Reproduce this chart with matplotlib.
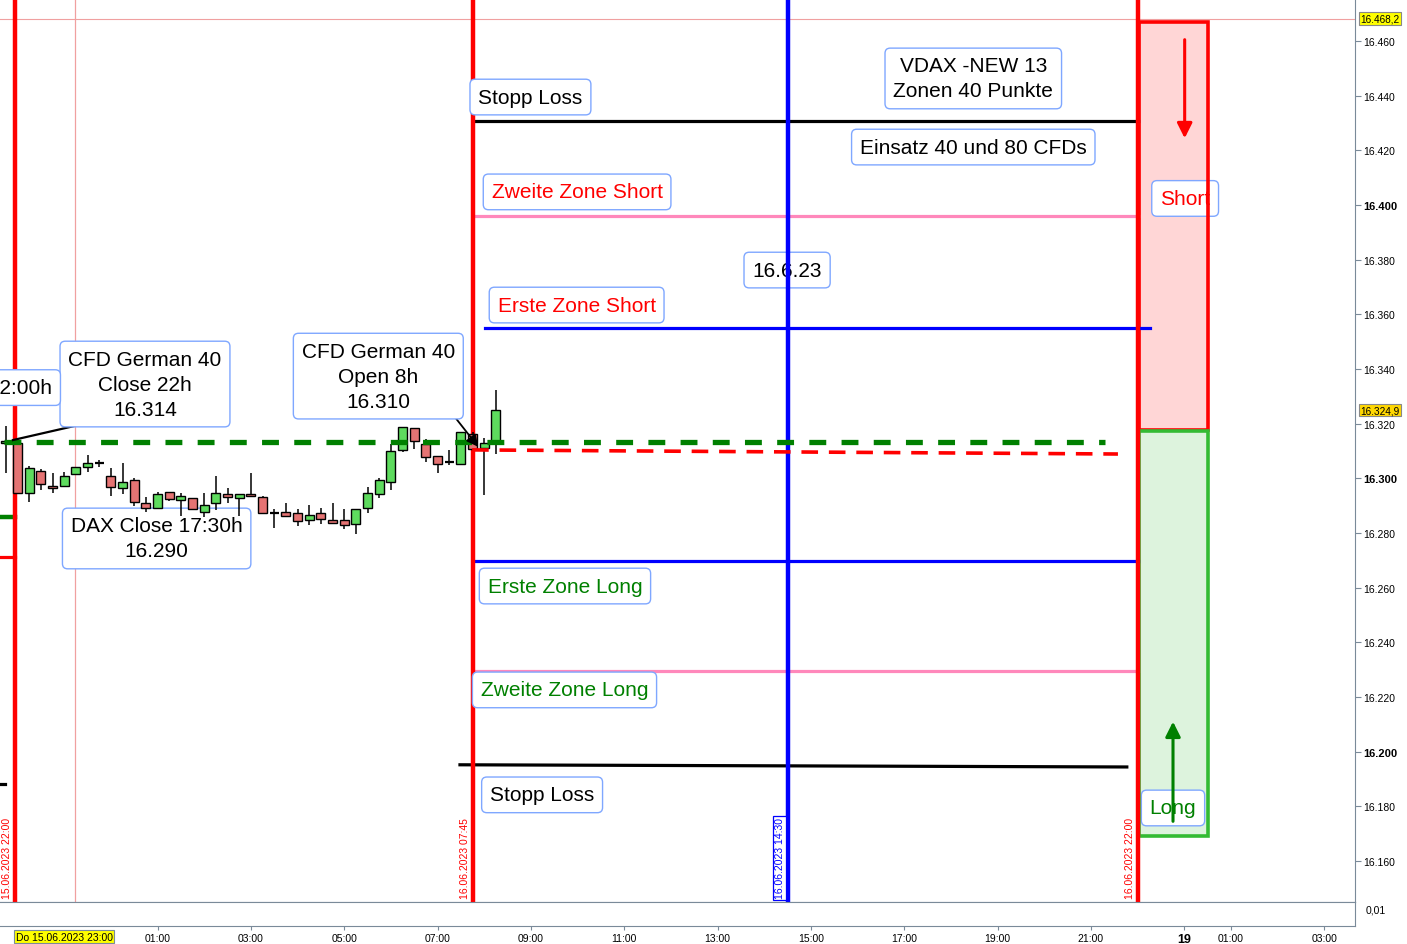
import matplotlib
matplotlib.use("Agg")
import matplotlib.pyplot as plt
from matplotlib.patches import Rectangle
import numpy as np

plt.rcParams['font.family'] = ['Liberation Sans', 'DejaVu Sans']

# ---------------- data ----------------
# time axis: hours since 15.06.2023 22:00 (weekend compressed)
candle_start = -0.25
candle_step = 0.25
opens = [16312.9, 16312.9, 16294.6, 16302.7, 16297.2, 16297.2, 16301.6, 16304.2, 16305.6, 16300.9,
         16296.5, 16299.4, 16291.0, 16289.1, 16295.0, 16292.1, 16292.8, 16287.7, 16291.0, 16294.3,
         16292.8, 16294.3, 16293.2, 16287.3, 16287.7, 16287.3, 16284.8, 16287.3, 16284.8, 16284.8,
         16283.3, 16289.1, 16294.3, 16298.7, 16310.4, 16318.4, 16312.6, 16308.2, 16306.0, 16305.3,
         16316.2, 16311.1, 16313.3]
highs = [16319.1, 16313.5, 16304.4, 16303.4, 16302.0, 16302.3, 16304.2, 16308.5, 16306.7, 16303.8,
         16305.6, 16300.1, 16293.2, 16295.0, 16295.0, 16294.6, 16292.8, 16294.6, 16300.9, 16296.5,
         16294.3, 16302.0, 16293.5, 16288.8, 16291.0, 16288.8, 16290.2, 16289.1, 16291.0, 16288.8,
         16288.8, 16296.8, 16300.1, 16312.6, 16318.8, 16318.4, 16314.4, 16308.2, 16310.4, 16317.0,
         16317.0, 16314.8, 16332.3]
lows = [16302.0, 16294.6, 16291.3, 16295.7, 16294.6, 16297.2, 16301.6, 16302.3, 16304.2, 16293.5,
        16294.3, 16289.9, 16287.7, 16289.1, 16291.7, 16286.2, 16288.4, 16285.9, 16288.4, 16291.0,
        16286.2, 16293.5, 16287.3, 16281.8, 16286.2, 16282.6, 16282.9, 16283.3, 16283.7, 16281.5,
        16279.6, 16287.3, 16292.8, 16295.7, 16309.5, 16310.7, 16306.0, 16302.0, 16304.9, 16305.3,
        16310.0, 16293.9, 16308.9]
closes = [16313.7, 16294.6, 16303.8, 16297.9, 16296.5, 16300.9, 16304.2, 16305.6, 16305.6, 16296.8,
          16298.7, 16291.3, 16289.1, 16294.3, 16292.4, 16293.5, 16288.8, 16290.2, 16294.6, 16293.2,
          16294.3, 16293.5, 16287.3, 16287.3, 16286.2, 16284.4, 16286.6, 16285.1, 16283.7, 16282.9,
          16288.8, 16294.6, 16299.4, 16310.0, 16318.8, 16313.7, 16307.8, 16305.3, 16306.0, 16317.0,
          16310.7, 16312.9, 16325.0]

# zone levels
stop_short = 16430.7
zone2_short = 16396.0
zone1_short = 16355.0
cfd_close_level = 16313.3
open_level_start, open_level_end = 16310.4, 16308.9
zone1_long = 16269.8
zone2_long = 16229.5
stop_long_start, stop_long_end = 16195.2, 16194.4
prev_green, prev_red, prev_black = 16285.9, 16271.2, 16188.2

# vertical event lines (hours since 15.06 22:00)
vlines_t = [-0.05, 9.75, 16.5, 24.0]
vlines_lbl = ["15.06.2023 22:00", "16.06.2023 07:45", "16.06.2023 14:30", "16.06.2023 22:00"]
vlines_col = ["#FF0000", "#FF0000", "#0000FF", "#FF0000"]

# short / long target boxes
short_box = (16317.7, 16467.0)
long_box = (16169.1, 16317.3)

# axis ticks
ytick_vals = list(range(16160, 16461, 20))
bold_y = [16200, 16300, 16400]
xtick_t = [3, 5, 7, 9, 11, 13, 15, 17, 19, 21, 23, 25, 26, 28]
xtick_lbl = ["01:00", "03:00", "05:00", "07:00", "09:00", "11:00", "13:00", "15:00",
             "17:00", "19:00", "21:00", "19", "01:00", "03:00"]
high_marker = 16468.2
last_price = 16324.9

# ---------------- figure ----------------
fig = plt.figure(figsize=(14.07, 9.45), dpi=100)
ax = fig.add_axes([0, 42/945, 1355/1407, 903/945])
ax2 = fig.add_axes([0, 18/945, 1355/1407, 24/945], sharex=ax)

x0, x1 = -0.377, 28.66
ax.set_xlim(x0, x1)
ax.set_ylim(16145.0, 16475.37)

spine_col = "#7A8A99"
for a in (ax, ax2):
    a.spines['top'].set_visible(False)
    a.spines['left'].set_visible(False)
    a.spines['right'].set_color(spine_col)
    a.spines['bottom'].set_color(spine_col)
ax2.spines['top'].set_visible(True)
ax2.spines['top'].set_color(spine_col)

# right y axis
ax.yaxis.tick_right()
ax.set_yticks(ytick_vals)
ax.set_yticklabels([f"{v/1000:.3f}" for v in ytick_vals])
ax.tick_params(axis='y', which='both', length=4, color=spine_col, labelsize=7.5, pad=2)
for lbl, v in zip(ax.get_yticklabels(), ytick_vals):
    if v in bold_y:
        lbl.set_fontweight('bold')
        lbl.set_fontsize(8)
ax.tick_params(axis='x', which='both', bottom=False, labelbottom=False)

# sub-panel
ax2.set_ylim(0, 1)
ax2.set_yticks([])
ax2.text(1.008, 0.7, "0,01", transform=ax2.transAxes, fontsize=7.5, va='center', ha='left')
ax2.set_xticks(xtick_t)
ax2.set_xticklabels(xtick_lbl)
ax2.tick_params(axis='x', length=3, color=spine_col, labelsize=7.5, pad=2)
for lbl, t in zip(ax2.get_xticklabels(), xtick_t):
    if t == 25:
        lbl.set_fontweight('bold')
        lbl.set_fontsize(9)
ax2.text(1, -0.45, "Do 15.06.2023 23:00", transform=ax2.get_xaxis_transform(), fontsize=7.5,
         ha='center', va='center',
         bbox=dict(boxstyle='square,pad=0.15', fc='#FFFF00', ec='#7A8A99', lw=0.8), clip_on=False)

# thin crosshair lines
ax.axhline(high_marker, color='#F0A0A0', lw=0.8, zorder=1)
ax.axvline(1.23, color='#F0A0A0', lw=0.9, zorder=1)

def de_fmt(v):
    return f"{v:,.1f}".replace(",", "X").replace(".", ",").replace("X", ".")

# right axis price labels
ytr = ax.get_yaxis_transform()
ax.text(1.004, high_marker, de_fmt(high_marker),
        transform=ytr, fontsize=7.2, va='center', ha='left',
        bbox=dict(boxstyle='square,pad=0.12', fc='#FFFF00', ec='#888888', lw=0.8), clip_on=False)
ax.text(1.004, last_price, de_fmt(last_price),
        transform=ytr, fontsize=7.2, va='center', ha='left',
        bbox=dict(boxstyle='square,pad=0.12', fc='#FFD700', ec='#888888', lw=0.8), clip_on=False)

# vertical event lines
for t, lab, c in zip(vlines_t, vlines_lbl, vlines_col):
    ax.axvline(t, color=c, lw=3.2, zorder=6)
    kw = {}
    if c == "#0000FF":
        kw['bbox'] = dict(boxstyle='square,pad=0.15', fc='white', ec='#0000FF', lw=0.9)
    ax.text(t - 0.17, 16146.3, lab, rotation=90, color=c, fontsize=7.5,
            ha='center', va='bottom', zorder=7, **kw)

# target boxes on the right (fill below labels, border above)
for (lo, hi), fc, ec in ((short_box, '#FFD6D6', '#FF0000'), (long_box, '#DDF3DD', '#33BB33')):
    ax.add_patch(Rectangle((24.04, lo), 25.51 - 24.04, hi - lo, fc=fc, ec='none', zorder=2))
    ax.add_patch(Rectangle((24.04, lo), 25.51 - 24.04, hi - lo, fc='none', ec=ec, lw=2.6, zorder=4))
ax.annotate("", xy=(25.01, 16423.4), xytext=(25.01, 16461.5),
            arrowprops=dict(arrowstyle='-|>,head_width=0.45,head_length=0.9', color='#FF0000', lw=2.2),
            zorder=4)
ax.annotate("", xy=(24.76, 16212.0), xytext=(24.76, 16173.5),
            arrowprops=dict(arrowstyle='-|>,head_width=0.45,head_length=0.9', color='#008000', lw=2.2),
            zorder=4)

# zone lines
ax.plot([9.75, 24.0], [stop_short, stop_short], color='black', lw=2.3, zorder=4)
ax.plot([9.75, 24.0], [zone2_short, zone2_short], color='#FF88BB', lw=2.3, zorder=4)
ax.plot([10.02, 24.27], [zone1_short, zone1_short], color='#0000FF', lw=2.3, zorder=4)
ax.plot([9.75, 24.0], [zone1_long, zone1_long], color='#0000FF', lw=2.3, zorder=4)
ax.plot([9.75, 24.0], [zone2_long, zone2_long], color='#FF88BB', lw=2.3, zorder=4)
ax.plot([9.48, 23.77], [stop_long_start, stop_long_end], color='black', lw=2.3, zorder=4)
ax.plot([-0.29, 23.3], [cfd_close_level, cfd_close_level], color='#008000', lw=3.8,
        linestyle=(0, (3.2, 2.9)), solid_capstyle='butt', dash_capstyle='butt', zorder=9.5)
ax.plot([9.74, 23.58], [open_level_start, open_level_end], color='#FF0000', lw=2.6,
        linestyle=(0, (4.6, 3.0)), dash_capstyle='butt', zorder=9.5)
# segments from the previous day
ax.plot([-0.5, -0.05], [prev_green, prev_green], color='#008000', lw=3.2, zorder=4)
ax.plot([-0.5, -0.05], [prev_red, prev_red], color='#FF0000', lw=2.3, zorder=4)
ax.plot([-0.5, -0.27], [prev_black, prev_black], color='black', lw=2.3, zorder=4)

# candles
tt = candle_start + candle_step * np.arange(len(opens))
o = np.array(opens); h = np.array(highs); l = np.array(lows); c = np.array(closes)
ax.vlines(tt, l, h, color='black', lw=1.1, zorder=8)
up = c > o
dn = c < o
eq = c == o
ax.bar(tt[up], c[up] - o[up], bottom=o[up], width=0.19, color='#5EDB5E', edgecolor='black', lw=1.0, zorder=9)
ax.bar(tt[dn], c[dn] - o[dn], bottom=o[dn], width=0.19, color='#E57373', edgecolor='black', lw=1.0, zorder=9)
ax.hlines(o[eq], tt[eq] - 0.1, tt[eq] + 0.1, color='black', lw=1.6, zorder=9)

# connector lines
ax.plot([-0.1, 1.23], [16314.0, 16319.2], color='black', lw=1.6, zorder=10)
ax.annotate("", xy=(9.91, 16310.7), xytext=(9.27, 16324.6),
            arrowprops=dict(arrowstyle='-|>,head_width=0.35,head_length=0.7', color='black', lw=1.3),
            zorder=10)

# text boxes
box = dict(boxstyle='round,pad=0.4,rounding_size=0.25', fc='white', ec='#7FA7FF', lw=1.0)
def label(t, p, s, color='black', **kw):
    ax.text(t, p, s, fontsize=15, color=color, ha=kw.pop('ha', 'center'), va='center',
            multialignment='center', linespacing=1.4, bbox=box,
            zorder=kw.pop('zorder', 11), **kw)

label(10.99, 16439.5, "Stopp Loss")
label(20.48, 16446.3, "VDAX -NEW 13\nZonen 40 Punkte")
label(20.48, 16421.2, "Einsatz 40 und 80 CFDs")
label(11.99, 16404.8, "Zweite Zone Short", color='#FF0000')
label(16.49, 16376.2, "16.6.23", zorder=5)
label(11.98, 16363.4, "Erste Zone Short", color='#FF0000')
label(2.73, 16334.5, "CFD German 40\nClose 22h\n16.314")
label(0.74, 16333.2, "22:00h", ha='right', clip_on=True)
label(7.73, 16337.4, "CFD German 40\nOpen 8h\n16.310")
label(2.98, 16278.0, "DAX Close 17:30h\n16.290", zorder=7.5)
label(11.73, 16260.6, "Erste Zone Long", color='#008000')
label(11.72, 16222.6, "Zweite Zone Long", color='#008000')
label(11.24, 16184.2, "Stopp Loss")
label(25.02, 16402.4, "Short", color='#FF0000', zorder=3)
label(24.76, 16179.4, "Long", color='#008000', zorder=3)

fig.savefig("out.png", dpi=100)
